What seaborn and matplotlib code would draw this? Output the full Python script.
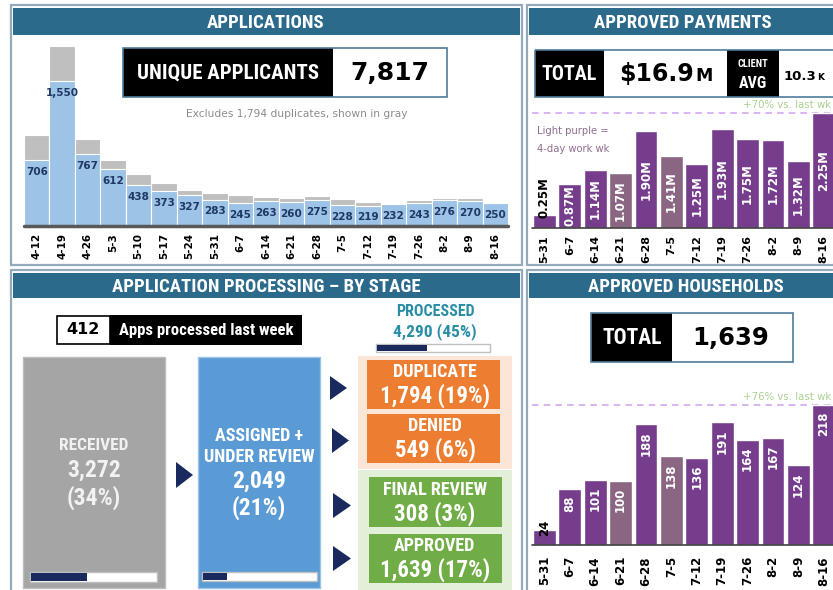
import matplotlib
matplotlib.use("Agg")
import matplotlib.pyplot as plt
import seaborn as sns
import pandas as pd
from matplotlib.patches import Rectangle, Polygon
from matplotlib import font_manager as fm

# ---------------- data ----------------
app_weeks = ['4-12', '4-19', '4-26', '5-3', '5-10', '5-17', '5-24', '5-31', '6-7', '6-14',
             '6-21', '6-28', '7-5', '7-12', '7-19', '7-26', '8-2', '8-9', '8-16']
unique_apps = [706, 1550, 767, 612, 438, 373, 327, 283, 245, 263, 260, 275, 228, 219, 232, 243, 276, 270, 250]
duplicate_apps = [264, 375, 160, 94, 122, 90, 58, 73, 87, 47, 43, 46, 64, 41, 13, 32, 27, 26, 0]

pay_weeks = ['5-31', '6-7', '6-14', '6-21', '6-28', '7-5', '7-12', '7-19', '7-26', '8-2', '8-9', '8-16']
payments_m = [0.25, 0.87, 1.14, 1.07, 1.90, 1.41, 1.25, 1.93, 1.75, 1.72, 1.32, 2.25]
households = [24, 88, 101, 100, 188, 138, 136, 191, 164, 167, 124, 218]
four_day_week = [False, False, False, True, False, True, False, False, False, False, False, False]

stage_bar_fill = [0.45, 0.21, 0.45]   # received, assigned, processed progress bars

# ---------------- style ----------------
sns.set_theme(style="white")
plt.rcParams['font.family'] = ['DejaVu Sans']


def find_condensed():
    for fam, scale in [('Roboto Condensed', 1.0), ('Liberation Sans Narrow', 1.0),
                       ('Open Sans Condensed', 1.0), ('Arial Narrow', 1.0)]:
        try:
            fm.findfont(fm.FontProperties(family=fam, weight='bold'), fallback_to_default=False)
            return fam, 'normal', scale
        except Exception:
            pass
    try:
        p = fm.findfont(fm.FontProperties(family='DejaVu Sans', weight='bold', stretch='condensed'),
                        fallback_to_default=False)
        if 'Condensed' in p:
            return 'DejaVu Sans', 'condensed', 1.0
    except Exception:
        pass
    for fam, scale in [('Roboto', 0.86), ('Liberation Sans', 0.84)]:
        try:
            fm.findfont(fm.FontProperties(family=fam, weight='bold'), fallback_to_default=False)
            return fam, 'normal', scale
        except Exception:
            pass
    return 'DejaVu Sans', 'normal', 0.78


CFAM, CSTRETCH, CSCALE = find_condensed()
COND = [CFAM, 'DejaVu Sans']

W, H = 833, 590
fig = plt.figure(figsize=(W / 100, H / 100), dpi=100)
fig.patch.set_facecolor('white')

ax0 = fig.add_axes([0, 0, 1, 1])
ax0.set_xlim(0, W)
ax0.set_ylim(H, 0)
ax0.axis('off')

HEAD = '#2C6A8B'
NAVY = '#1B2A5E'
DARKP = '#753D8C'
LIGHTP = '#8A6683'


def rect(x0, y0, x1, y1, fc, ec='none', lw=0, z=1):
    ax0.add_patch(Rectangle((x0, y0), x1 - x0, y1 - y0, facecolor=fc, edgecolor=ec, linewidth=lw, zorder=z))


def txt(x, y, s, size, color='white', fam=None, weight='bold', ha='center', va='center', z=5):
    if fam is None:
        ax0.text(x, y, s, fontsize=size * CSCALE, color=color, family=COND, fontstretch=CSTRETCH,
                 fontweight=weight, ha=ha, va=va, zorder=z)
    else:
        ax0.text(x, y, s, fontsize=size, color=color, family=fam, fontweight=weight, ha=ha, va=va, zorder=z)


def tri(x0, y0, x1, y1):
    ax0.add_patch(Polygon([(x0, y0), (x0, y1), (x1, (y0 + y1) / 2)], closed=True, facecolor=NAVY,
                          edgecolor='none', zorder=3))


def pbar(x0, y0, x1, y1, frac):
    rect(x0, y0, x1, y1, 'white', '#BFBFBF', 1, z=3)
    rect(x0 + 1, y0 + 1, x0 + 1 + (x1 - x0 - 2) * frac, y1 - 1, NAVY, z=4)


DV = ['DejaVu Sans']

# panels
panels = [(11, 5, 522, 265, 'APPLICATIONS', 35, 266),
          (527, 5, 845, 265, 'APPROVED PAYMENTS', 35, 683),
          (11, 270, 522, 595, 'APPLICATION PROCESSING \u2013 BY STAGE', 298, 266),
          (527, 270, 845, 595, 'APPROVED HOUSEHOLDS', 298, 686)]
for x0, y0, x1, y1, title, hy, xc in panels:
    rect(x0, y0, x1, y1, 'white', '#93AABB', 1.6, z=0.5)
    rect(x0 + 2, y0 + 3, x1 - 2, hy, HEAD, z=1)
    txt(xc, (y0 + 3 + hy) / 2 + 1, title, 13.5)

# ---- Applications header box
rect(123, 48, 333, 97, 'black', z=2)
rect(333, 48, 447, 97, 'white', z=2)
ax0.add_patch(Rectangle((123, 48), 324, 49, facecolor='none', edgecolor='#4F7C99', linewidth=1.2, zorder=3))
txt(228, 73, 'UNIQUE APPLICANTS', 15)
txt(390, 73, f'{sum(unique_apps):,}', 18, color='black', fam=DV)
txt(297, 114, 'Excludes 1,794 duplicates, shown in gray', 7.7, color='#8C8C8C', fam=DV, weight='normal')

# ---- Payments header boxes
rect(535, 50, 604, 97, 'black', z=2)
rect(604, 50, 727, 97, 'white', z=2)
rect(727, 50, 779, 97, 'black', z=2)
rect(779, 50, 845, 97, 'white', z=2)
ax0.add_patch(Rectangle((535, 50), 310, 47, facecolor='none', edgecolor='#4F7C99', linewidth=1.2, zorder=3))
txt(569, 74, 'TOTAL', 14.5)
txt(694, 81, '$16.9', 17, color='black', fam=DV, ha='right', va='baseline')
txt(695, 81, 'M', 12.5, color='black', fam=DV, ha='left', va='baseline')
txt(753, 64, 'CLIENT', 7.5)
txt(753, 84, 'AVG', 11.5)
txt(816, 80, '10.3', 9.5, color='black', fam=DV, ha='right', va='baseline')
txt(817, 80, 'K', 6.5, color='black', fam=DV, ha='left', va='baseline')
txt(831, 105, '+70% vs. last wk', 7.3, color='#A9D18E', fam=DV, weight='normal', ha='right')
txt(537, 131, 'Light purple =', 7.2, color='#8E6E8E', fam=DV, weight='normal', ha='left')
txt(537, 149, '4-day work wk', 7.2, color='#8E6E8E', fam=DV, weight='normal', ha='left')

# ---- Households header box
rect(591, 313, 672, 362, 'black', z=2)
rect(672, 313, 793, 362, 'white', z=2)
ax0.add_patch(Rectangle((591, 313), 202, 49, facecolor='none', edgecolor='#4F7C99', linewidth=1.2, zorder=3))
txt(632, 338, 'TOTAL', 15.5)
txt(731, 338, f'{sum(households):,}', 17.5, color='black', fam=DV)
txt(831, 397, '+76% vs. last wk', 7.3, color='#A9D18E', fam=DV, weight='normal', ha='right')

# ---- Processing panel
rect(57, 316, 110, 344, 'white', 'black', 1.2, z=2)
rect(110, 315, 302, 345, 'black', z=2)
txt(83, 330, '412', 11.5, color='black', fam=DV)
txt(206, 330, 'Apps processed last week', 12)
txt(435, 311, 'PROCESSED', 11.5, color='#2A8DA6')
txt(435, 332, '4,290 (45%)', 12.5, color='#2A8DA6')
pbar(376, 344, 490, 352, stage_bar_fill[2])

rect(23, 357, 165, 588, '#A5A5A5', '#BDBDBD', 1, z=2)
txt(94, 445, 'RECEIVED', 12.5, color='#F2F2F2')
txt(94, 470, '3,272', 17, color='#F2F2F2')
txt(94, 498, '(34%)', 17, color='#F2F2F2')
pbar(30, 572, 157, 582, stage_bar_fill[0])
tri(176, 462, 193, 488)

rect(198, 357, 320, 588, '#5B9BD5', '#9DC3E6', 1, z=2)
txt(259, 436, 'ASSIGNED +', 13)
txt(259, 457, 'UNDER REVIEW', 13)
txt(259, 481, '2,049', 17)
txt(259, 508, '(21%)', 17)
pbar(202, 572, 317, 581, stage_bar_fill[1])

rect(358, 356, 512, 469, '#FBE5D6', z=1.5)
rect(358, 470, 512, 595, '#E2F0D9', z=1.5)
rect(367, 360, 500, 409, '#ED7D31', z=2)
rect(367, 414, 500, 463, '#ED7D31', z=2)
rect(369, 477, 502, 527, '#70AD47', z=2)
rect(369, 534, 502, 583, '#70AD47', z=2)
for yc, lab, val in [(372, 'DUPLICATE', '1,794 (19%)'), (426, 'DENIED', '549 (6%)'),
                     (490, 'FINAL REVIEW', '308 (3%)'), (546, 'APPROVED', '1,639 (17%)')]:
    txt(435, yc, lab, 13)
    txt(435, yc + 24, val, 16.5)
tri(330, 376, 347, 400)
tri(332, 428, 349, 453)
tri(333, 493, 351, 518)
tri(333, 546, 351, 571)


# ---------------- bar charts ----------------
def px_axes(x0, y0, x1, y1):
    ax = fig.add_axes([x0 / W, 1 - y1 / H, (x1 - x0) / W, (y1 - y0) / H])
    ax.patch.set_alpha(0)
    for s in ax.spines.values():
        s.set_visible(False)
    return ax


# Applications
df_app = pd.DataFrame({'week': app_weeks, 'unique': unique_apps,
                       'total': [u + d for u, d in zip(unique_apps, duplicate_apps)]})
ax1 = px_axes(24, 40, 508, 226)
sns.barplot(data=df_app, x='week', y='total', color='#BFBFBF', width=1.0, edgecolor='white',
            linewidth=0.8, saturation=1, ax=ax1)
sns.barplot(data=df_app, x='week', y='unique', color='#9DC3E6', width=1.0, edgecolor='white',
            linewidth=0.8, saturation=1, ax=ax1)
ax1.set_ylim(0, 1990)
ax1.set_xlim(-0.5, len(app_weeks) - 0.5)
ax1.axhline(0, color='#595959', lw=2.5, clip_on=False)
for i, v in enumerate(unique_apps):
    ax1.annotate(f'{v:,}', (i, v), xytext=(0, -5), textcoords='offset points', ha='center', va='top',
                 fontsize=7.5, fontweight='bold', color='#1F3864')

# Payments
df_pay = pd.DataFrame({'week': pay_weeks, 'pay': payments_m, 'hh': households})
bar_cols = [LIGHTP if f else DARKP for f in four_day_week]
ax2 = px_axes(531.7, 105, 836.5, 228)
sns.barplot(data=df_pay, x='week', y='pay', hue='week', palette=bar_cols, legend=False, width=0.9,
            edgecolor='white', linewidth=1, saturation=1, ax=ax2)
ax2.set_ylim(0, 123 / 51.1)
ax2.set_xlim(-0.5, len(pay_weeks) - 0.5)
ax2.axhline(max(payments_m), color='#D4A8F0', lw=1.2, ls=(0, (4, 3)), zorder=0)
ax2.axhline(0, color='#404040', lw=1.2, clip_on=False)
for i, v in enumerate(payments_m):
    if v < 0.5:
        ax2.text(i, v - 0.05, f'{v:.2f}M', rotation=90, ha='center', va='bottom', fontsize=8.5,
                 fontweight='bold', color='black', zorder=5)
    else:
        ax2.text(i, v / 2, f'{v:.2f}M', rotation=90, ha='center', va='center', fontsize=8.5,
                 fontweight='bold', color='white', zorder=5)

# Households
ax3 = px_axes(531.7, 395, 836.5, 545)
sns.barplot(data=df_pay, x='week', y='hh', hue='week', palette=bar_cols, legend=False, width=0.9,
            edgecolor='white', linewidth=1, saturation=1, ax=ax3)
ax3.set_ylim(0, 150 / 0.642)
ax3.set_xlim(-0.5, len(pay_weeks) - 0.5)
ax3.axhline(max(households), color='#D4A8F0', lw=1.2, ls=(0, (4, 3)), zorder=0)
ax3.axhline(0, color='#404040', lw=1.2, clip_on=False)
for i, v in enumerate(households):
    if v < 40:
        ax3.text(i, v * 1.1, f'{v}', rotation=90, ha='center', va='center', fontsize=8.5,
                 fontweight='bold', color='black', zorder=5)
    else:
        ax3.annotate(f'{v}', (i, v), xytext=(0, -5), textcoords='offset points', rotation=90,
                     ha='center', va='top', fontsize=8.5, fontweight='bold', color='white', zorder=5)

for ax, weeks, pad, fs in [(ax1, app_weeks, 5, 7.5), (ax2, pay_weeks, 5, 8), (ax3, pay_weeks, 8, 8.5)]:
    ax.set_xticks(range(len(weeks)))
    ax.set_xticklabels(weeks, rotation=90, fontweight='bold', fontsize=fs, color='black')
    ax.tick_params(axis='x', length=0, pad=pad)
    ax.set_yticks([])
    ax.set_xlabel('')
    ax.set_ylabel('')

fig.savefig('out.png', dpi=100, facecolor='white')
